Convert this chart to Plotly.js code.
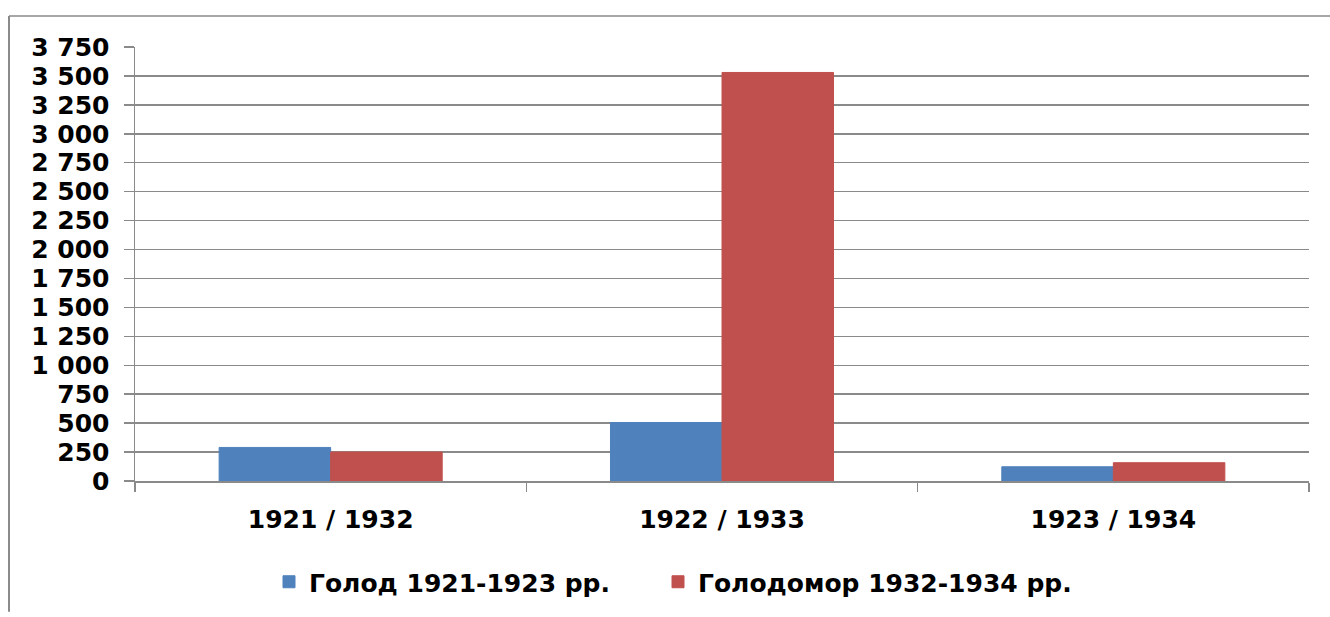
<!DOCTYPE html>
<html>
<head>
<meta charset="utf-8">
<script src="https://cdn.plot.ly/plotly-3.0.1.min.js"></script>
<style>
html,body{margin:0;padding:0;background:#fff;}
#chart{width:1330px;height:617px;}
</style>
</head>
<body>
<div id="chart"></div>
<script>
var categories = ["1921 / 1932", "1922 / 1933", "1923 / 1934"];
var seriesNames = ["Голод 1921-1923 рр.", "Голодомор 1932-1934 рр."];
var famine1921 = [290, 505, 123];
var holodomor1932 = [250, 3530, 158];
var yTickValues = [0,250,500,750,1000,1250,1500,1750,2000,2250,2500,2750,3000,3250,3500,3750];

var W = 1330, H = 617;
var L = 135, R = 1309, T = 46.5, B = 481;
function px(x){ return (x - L) / (R - L); }
function py(y){ return (B - y) / (B - T); }

var font = "DejaVu Sans, Arial, sans-serif";
var gray = "#8a8a8a";

var traces = [
  {type:"bar", x:categories, y:famine1921, name:seriesNames[0], legend:"legend",
   marker:{color:"#4F81BD", line:{color:"#4F81BD", width:1}}},
  {type:"bar", x:categories, y:holodomor1932, name:seriesNames[1], legend:"legend2",
   marker:{color:"#C0504D", line:{color:"#C0504D", width:1}}}
];

var legendFont = {family:font, size:25, color:"#000", weight:"bold"};

var layout = {
  width:W, height:H,
  margin:{l:L, r:W-R, t:T, b:H-B},
  paper_bgcolor:"#fff", plot_bgcolor:"#fff",
  separators:", ",
  barmode:"group",
  bargap:0.43, bargroupgap:0,
  showlegend:true,
  font:{family:font, color:"#000", size:24},
  xaxis:{
    type:"category",
    showline:true, linecolor:gray, linewidth:1.5,
    ticks:"outside", tickson:"boundaries", ticklen:9, tickcolor:gray, tickwidth:1.5,
    showgrid:false,
    tickfont:{family:font, size:25, color:"#000", weight:"bold"},
    ticklabelstandoff:15
  },
  yaxis:{
    range:[0,3750], tickvals:yTickValues, tickformat:",d",
    showline:true, linecolor:gray, linewidth:1.5,
    ticks:"outside", ticklen:10, tickcolor:gray, tickwidth:1.5,
    showgrid:true, gridcolor:gray, gridwidth:1.5,
    zeroline:false,
    tickfont:{family:font, size:25, color:"#000", weight:"bold"},
    ticklabelstandoff:9
  },
  legend:{
    orientation:"h",
    xref:"container", yref:"container",
    x:269/W, xanchor:"left",
    y:1-582/H, yanchor:"middle",
    font:legendFont,
    itemclick:false, itemdoubleclick:false
  },
  legend2:{
    orientation:"h",
    xref:"container", yref:"container",
    x:658/W, xanchor:"left",
    y:1-582/H, yanchor:"middle",
    font:legendFont,
    itemclick:false, itemdoubleclick:false
  },
  shapes:[
    {type:"line", xref:"paper", yref:"paper", x0:px(9), x1:px(1335), y0:py(15.5), y1:py(15.5),
     line:{color:gray, width:1.5}},
    {type:"line", xref:"paper", yref:"paper", x0:px(9), x1:px(9), y0:py(15.5), y1:py(612),
     line:{color:gray, width:2}}
  ]
};

Plotly.newPlot("chart", traces, layout, {displayModeBar:false, staticPlot:true});
</script>
</body>
</html>
